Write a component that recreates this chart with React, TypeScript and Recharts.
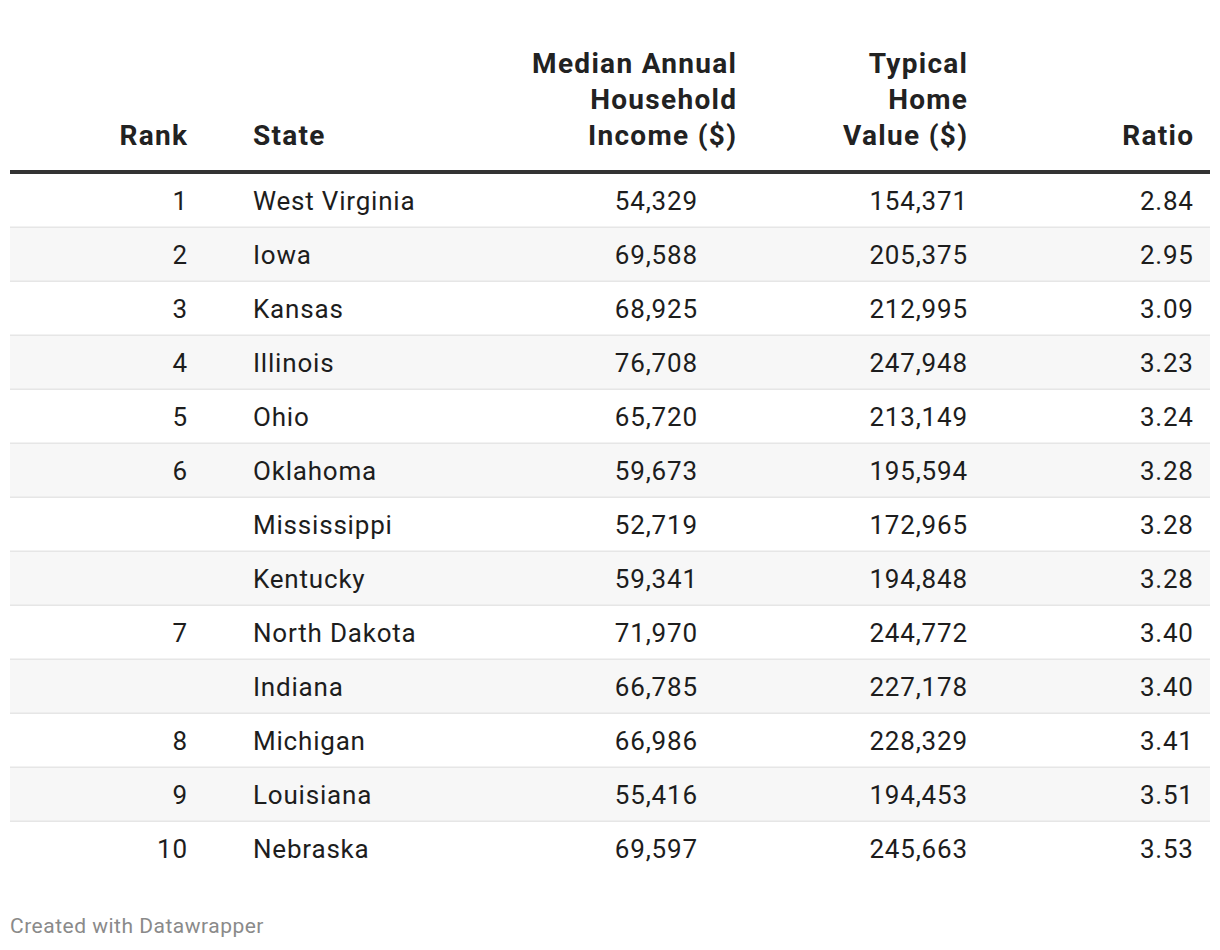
import React from 'react';
import { ComposedChart, Bar, XAxis, YAxis, LabelList, Customized } from 'recharts';

const ranks = ['1', '2', '3', '4', '5', '6', '', '', '7', '', '8', '9', '10'];
const states = [
  'West Virginia', 'Iowa', 'Kansas', 'Illinois', 'Ohio', 'Oklahoma', 'Mississippi',
  'Kentucky', 'North Dakota', 'Indiana', 'Michigan', 'Louisiana', 'Nebraska',
];
const incomes = [54329, 69588, 68925, 76708, 65720, 59673, 52719, 59341, 71970, 66785, 66986, 55416, 69597];
const homeValues = [154371, 205375, 212995, 247948, 213149, 195594, 172965, 194848, 244772, 227178, 228329, 194453, 245663];
const ratios = [2.84, 2.95, 3.09, 3.23, 3.24, 3.28, 3.28, 3.28, 3.40, 3.40, 3.41, 3.51, 3.53];

const headers = [
  { lines: ['Rank'], x: 187, anchor: 'end' },
  { lines: ['State'], x: 253, anchor: 'start' },
  { lines: ['Median Annual', 'Household', 'Income ($)'], x: 736, anchor: 'end' },
  { lines: ['Typical', 'Home', 'Value ($)'], x: 967, anchor: 'end' },
  { lines: ['Ratio'], x: 1193, anchor: 'end' },
];

const data = states.map((s, i) => ({
  state: s,
  rank: ranks[i],
  income: incomes[i],
  homeValue: homeValues[i],
  ratio: ratios[i],
}));

const FONT = 'Roboto, "Noto Sans", sans-serif';
const LEFT = 10;
const RIGHT = 1210;
const BODY_LS = 0.8;
const HEAD_LS = 1.3;

const getBox = (p: any) => {
  const vb = p.viewBox && typeof p.viewBox.y === 'number' ? p.viewBox : p;
  return { y: Number(vb.y), h: Number(vb.height) };
};

const StripeCell = (p: any) => {
  const { y, h } = getBox(p);
  const idx = states.indexOf(p.value);
  return (
    <g>
      {idx % 2 === 1 && <rect x={LEFT} y={y} width={RIGHT - LEFT} height={h} fill="#f7f7f7" />}
      {idx < states.length - 1 && <rect x={LEFT} y={y + h - 1.5} width={RIGHT - LEFT} height={1.5} fill="#e6e6e6" />}
    </g>
  );
};

const makeCell = (x: number, anchor: 'start' | 'end', fmt: (v: any) => string) => (p: any) => {
  const { y, h } = getBox(p);
  return (
    <text
      x={anchor === 'end' ? x + BODY_LS : x}
      y={y + h / 2}
      dy={8.5}
      textAnchor={anchor}
      fontFamily={FONT}
      fontSize={26}
      letterSpacing={BODY_LS}
      fill="#1d1d1d"
    >
      {fmt(p.value)}
    </text>
  );
};

const fmtInt = (v: any) => Number(v).toLocaleString('en-US');

const Header = () => (
  <g>
    {headers.map((hd, i) => (
      <text
        key={i}
        textAnchor={hd.anchor as any}
        fontFamily={FONT}
        fontWeight={700}
        fontSize={28}
        letterSpacing={HEAD_LS}
        fill="#222"
      >
        {hd.lines.map((ln, j) => (
          <tspan
            key={j}
            x={hd.anchor === 'end' ? hd.x + HEAD_LS : hd.x}
            y={145 - (hd.lines.length - 1 - j) * 36}
          >
            {ln}
          </tspan>
        ))}
      </text>
    ))}
    <rect x={LEFT} y={170} width={RIGHT - LEFT} height={4} fill="#333" />
    <text x={10} y={933} fontFamily={FONT} fontSize={21} letterSpacing={0.5} fill="#8a8a8a">
      Created with Datawrapper
    </text>
  </g>
);

export default function App() {
  return (
    <div style={{ position: 'absolute', left: 0, top: 0, background: '#fff' }}>
      <ComposedChart
        width={1220}
        height={950}
        data={data}
        layout="vertical"
        barCategoryGap={0}
        margin={{ top: 174, right: 10, bottom: 74, left: 10 }}
      >
        <XAxis type="number" hide domain={[0, 4]} />
        <YAxis type="category" dataKey="state" hide />
        <Bar dataKey="ratio" fill="transparent" isAnimationActive={false}>
          <LabelList dataKey="state" content={StripeCell} />
          <LabelList dataKey="rank" content={makeCell(187, 'end', (v) => String(v ?? ''))} />
          <LabelList dataKey="state" content={makeCell(253, 'start', (v) => String(v))} />
          <LabelList dataKey="income" content={makeCell(697, 'end', fmtInt)} />
          <LabelList dataKey="homeValue" content={makeCell(967, 'end', fmtInt)} />
          <LabelList dataKey="ratio" content={makeCell(1193, 'end', (v) => Number(v).toFixed(2))} />
        </Bar>
        <Customized component={Header} />
      </ComposedChart>
    </div>
  );
}
